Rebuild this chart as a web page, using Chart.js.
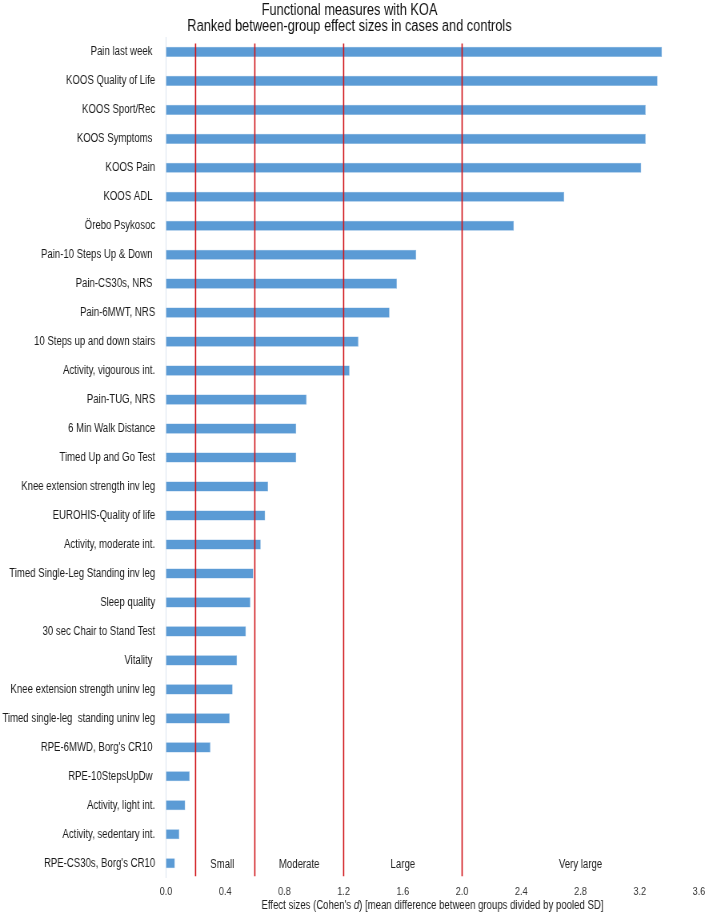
<!DOCTYPE html>
<html>
<head>
<meta charset="utf-8">
<script src="https://cdn.jsdelivr.net/npm/chart.js@4"></script>
<style>
  html, body { margin: 0; padding: 0; background: #fff; overflow: hidden; }
  /* the original uses a narrow typeface: draw wide, then squeeze horizontally */
  #wrap { width: 886px; height: 913px; transform: scaleX(0.8002); transform-origin: 0 0; }
</style>
</head>
<body>
<div id="wrap"><canvas id="effectChart"></canvas></div>
<script>
const MEASURES = ['Pain last week ', 'KOOS Quality of Life', 'KOOS Sport/Rec', 'KOOS Symptoms ', 'KOOS Pain',
    'KOOS ADL ', 'Örebo Psykosoc', 'Pain-10 Steps Up & Down ', 'Pain-CS30s, NRS ', 'Pain-6MWT, NRS',
    '10 Steps up and down stairs', 'Activity, vigourous int.', 'Pain-TUG, NRS', '6 Min Walk Distance',
    'Timed Up and Go Test', 'Knee extension strength inv leg', 'EUROHIS-Quality of life', 'Activity, moderate int.',
    'Timed Single-Leg Standing inv leg', 'Sleep quality', '30 sec Chair to Stand Test', 'Vitality ',
    'Knee extension strength uninv leg', 'Timed single-leg  standing uninv leg', 'RPE-6MWD, Borg\'s CR10 ',
    'RPE-10StepsUpDw ', 'Activity, light int.', 'Activity, sedentary int.', 'RPE-CS30s, Borg\'s CR10'];

const EFFECT_SIZES = [3.35, 3.32, 3.24, 3.24, 3.21, 2.69, 2.35, 1.69, 1.56, 1.51,
    1.30, 1.24, 0.95, 0.88, 0.88, 0.69, 0.67, 0.64, 0.59, 0.57,
    0.54, 0.48, 0.45, 0.43, 0.30, 0.16, 0.13, 0.09, 0.06];

// thresholds for small / moderate / large / very large
const CUTOFFS = [0.2, 0.6, 1.2, 2.0];
const ZONE_NAMES = ['Small', 'Moderate', 'Large', 'Very large'];
const ZONE_CENTRES = [0.38, 0.9, 1.6, 2.8];

const X_MIN = 0, X_MAX = 3.6, X_STEP = 0.4;

const FONT = '"Liberation Sans", Arial, sans-serif';

const cutoffLines = {
    id: 'cutoffLines',
    afterDatasetsDraw(chart) {
        const {ctx, chartArea, scales: {x, y}} = chart;
        ctx.save();
        ctx.strokeStyle = '#d0161b';
        ctx.lineWidth = 1.6;
        CUTOFFS.forEach(c => {
            const px = x.getPixelForValue(c);
            ctx.beginPath();
            ctx.moveTo(px, chartArea.top + 6);
            ctx.lineTo(px, chartArea.bottom - 1.5);
            ctx.stroke();
        });
        // zone names along the last row
        ctx.fillStyle = '#222';
        ctx.font = '12px ' + FONT;
        ctx.textAlign = 'center';
        ctx.textBaseline = 'middle';
        const rowY = y.getPixelForValue(MEASURES.length - 1);
        ZONE_NAMES.forEach((n, i) => ctx.fillText(n, x.getPixelForValue(ZONE_CENTRES[i]), rowY + 1));
        ctx.restore();
    }
};

// x axis title, with an italic d
const xTitle = {
    id: 'xTitle',
    afterDraw(chart) {
        const {ctx, chartArea} = chart;
        const parts = [
            ['12px ' + FONT, "Effect sizes (Cohen's "],
            ['italic 12px ' + FONT, 'd'],
            ['12px ' + FONT, ') [mean difference between groups divided by pooled SD]']
        ];
        ctx.save();
        let total = 0;
        parts.forEach(p => { ctx.font = p[0]; total += ctx.measureText(p[1]).width; });
        let cx = (chartArea.left + chartArea.right) / 2 - total / 2;
        const cy = 906;
        ctx.fillStyle = '#222';
        ctx.textBaseline = 'middle';
        ctx.textAlign = 'left';
        parts.forEach(p => {
            ctx.font = p[0];
            ctx.fillText(p[1], cx, cy);
            cx += ctx.measureText(p[1]).width;
        });
        ctx.restore();
    }
};

new Chart(document.getElementById('effectChart'), {
    type: 'bar',
    data: {
        labels: MEASURES,
        datasets: [{
            data: EFFECT_SIZES,
            backgroundColor: '#5b9bd5',
            borderColor: '#7fb1de',
            borderWidth: 0.5,
            barPercentage: 0.35,
            categoryPercentage: 1
        }]
    },
    options: {
        indexAxis: 'y',
        responsive: true,
        maintainAspectRatio: false,
        animation: false,
        layout: { padding: { left: 0, right: 12.5, top: 0, bottom: 6.5 } },
        plugins: {
            legend: { display: false },
            tooltip: { enabled: false },
            title: {
                display: true,
                text: ['Functional measures with KOA', 'Ranked between-group effect sizes in cases and controls'],
                color: '#111',
                font: { family: FONT, size: 16, weight: 'normal', lineHeight: 1.0 },
                padding: { top: 3, bottom: 2.4 }
            }
        },
        scales: {
            x: {
                min: X_MIN,
                max: X_MAX,
                grid: { display: false, drawTicks: false },
                border: { display: false },
                afterFit(s) { s.paddingRight = 0; s.paddingLeft = 0; },
                ticks: {
                    stepSize: X_STEP,
                    padding: 7.5,
                    color: '#333',
                    font: { family: FONT, size: 11.5 },
                    callback: v => Number(v).toFixed(1)
                }
            },
            y: {
                grid: { display: false, drawTicks: false },
                border: { display: true, color: '#dbe4ee', width: 1 },
                afterFit(s) { s.width = 207.4; },
                ticks: {
                    padding: 13.5,
                    color: '#1a1a1a',
                    autoSkip: false,
                    font: { family: FONT, size: 12 }
                }
            }
        }
    },
    plugins: [cutoffLines, xTitle]
});
</script>
</body>
</html>
